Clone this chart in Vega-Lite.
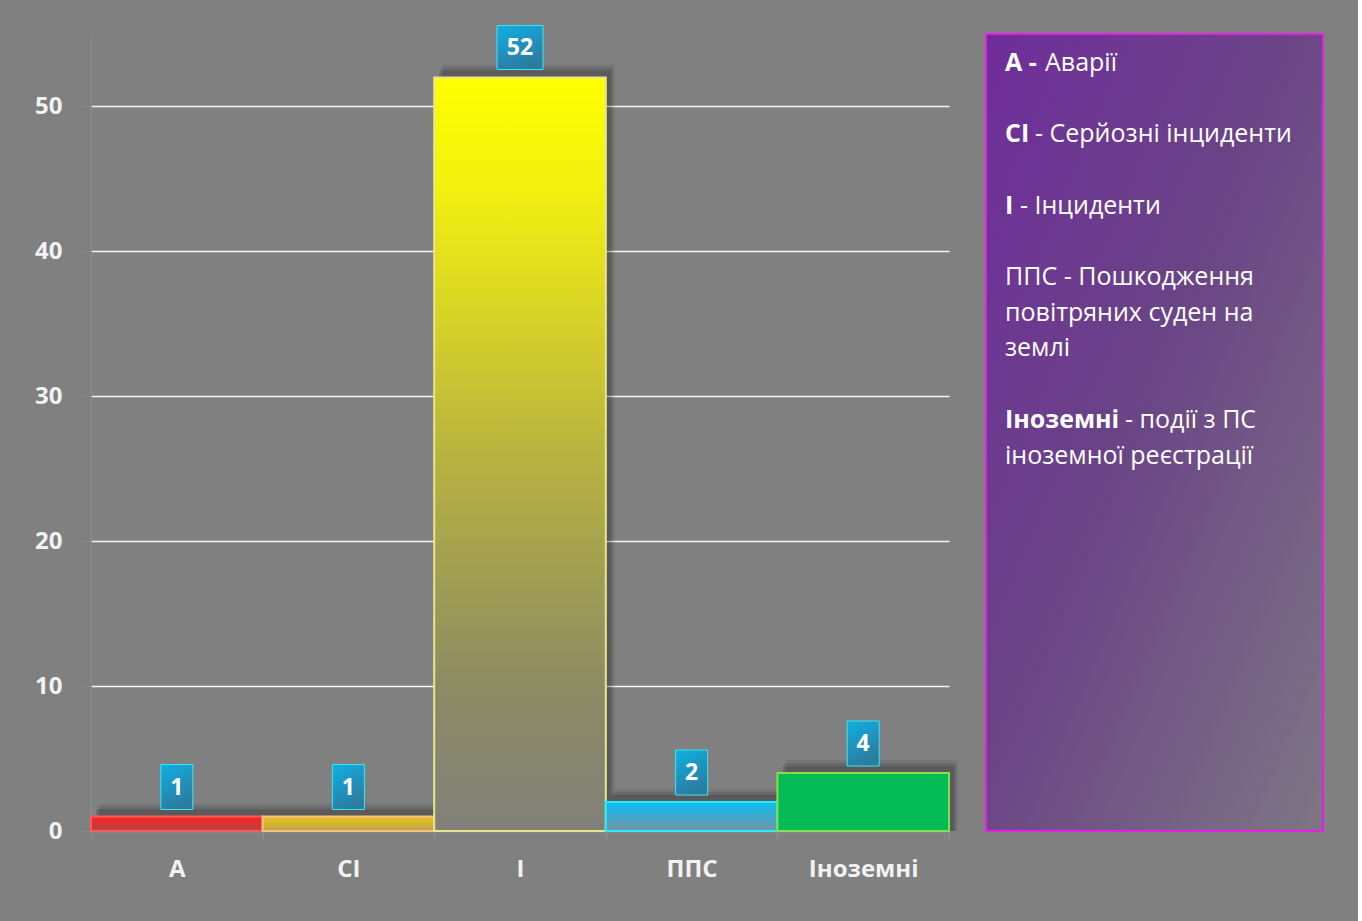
{
  "$schema": "https://vega.github.io/schema/vega-lite/v6.json",
  "background": "#808080",
  "padding": {"left": 34, "top": 24, "right": 34, "bottom": 40},
  "spacing": 27,
  "config": {
    "view": {"stroke": null},
    "font": "Open Sans",
    "axis": {"labelFont": "Open Sans"}
  },
  "hconcat": [
    {
      "width": 858,
      "height": 797,
      "data": {
        "values": [
          {"k": "А", "v": 1},
          {"k": "СІ", "v": 1},
          {"k": "І", "v": 52},
          {"k": "ППС", "v": 2},
          {"k": "Іноземні", "v": 4}
        ]
      },
      "encoding": {
        "x": {
          "field": "k",
          "type": "nominal",
          "sort": null,
          "scale": {"paddingInner": 0, "paddingOuter": 0},
          "axis": {
            "title": null,
            "labelAngle": 0,
            "labelFontSize": 24,
            "labelFontWeight": "bold",
            "labelColor": "#f2f2f2",
            "labelPadding": 18,
            "tickBand": "extent",
            "tickSize": 8,
            "tickColor": "#8e8e8e",
            "domainColor": "#8e8e8e",
            "domainWidth": 1.5
          }
        }
      },
      "layer": [
        {
          "mark": {"type": "bar", "xOffset": 9, "yOffset": -13, "fill": "#000000", "opacity": 0.08},
          "encoding": {
            "y": {
              "field": "v",
              "type": "quantitative",
              "scale": {"domain": [0, 55], "nice": false},
              "axis": {
                "title": null,
                "values": [0, 10, 20, 30, 40, 50],
                "labelFontSize": 24,
                "labelFontWeight": "bold",
                "labelColor": "#f2f2f2",
                "labelPadding": 20,
                "tickSize": 9,
                "tickColor": "#8e8e8e",
                "domainColor": "#8e8e8e",
                "grid": true,
                "gridColor": {"condition": {"test": "datum.value === 0", "value": "#8e8e8e"}, "value": "#f4f4f4"},
                "gridWidth": 1.3
              }
            },
            "y2": {"datum": 0}
          }
        },
        {
          "mark": {"type": "bar", "xOffset": 7, "yOffset": -10, "fill": "#000000", "opacity": 0.11},
          "encoding": {"y": {"field": "v", "type": "quantitative"}, "y2": {"datum": 0}}
        },
        {
          "mark": {"type": "bar", "xOffset": 5, "yOffset": -7, "fill": "#000000", "opacity": 0.14},
          "encoding": {"y": {"field": "v", "type": "quantitative"}, "y2": {"datum": 0}}
        },
        {
          "mark": {"type": "bar", "strokeWidth": 2},
          "encoding": {
            "y": {"field": "v", "type": "quantitative"},
            "y2": {"datum": 0},
            "fill": {
              "condition": [
                {"test": "datum.k === 'А'", "value": {"gradient": "linear", "x1": 0, "y1": 0, "x2": 0, "y2": 1, "stops": [{"offset": 0, "color": "#ff2020"}, {"offset": 1, "color": "#b04848"}]}},
                {"test": "datum.k === 'СІ'", "value": {"gradient": "linear", "x1": 0, "y1": 0, "x2": 0, "y2": 1, "stops": [{"offset": 0, "color": "#f2c21c"}, {"offset": 1, "color": "#b8a448"}]}},
                {"test": "datum.k === 'І'", "value": {"gradient": "linear", "x1": 0, "y1": 0, "x2": 0, "y2": 1, "stops": [{"offset": 0, "color": "#ffff00"}, {"offset": 0.15, "color": "#f2f010"}, {"offset": 0.5, "color": "#b8b340"}, {"offset": 0.8, "color": "#8e8c62"}, {"offset": 1, "color": "#80807a"}]}},
                {"test": "datum.k === 'ППС'", "value": {"gradient": "linear", "x1": 0, "y1": 0, "x2": 0, "y2": 1, "stops": [{"offset": 0, "color": "#04c0f4"}, {"offset": 1, "color": "#7892a4"}]}}
              ],
              "value": "#05bb55"
            },
            "stroke": {
              "condition": [
                {"test": "datum.k === 'А'", "value": "#ff5a5a"},
                {"test": "datum.k === 'СІ'", "value": "#f8c088"},
                {"test": "datum.k === 'І'", "value": "#e6e68a"},
                {"test": "datum.k === 'ППС'", "value": "#22eeff"}
              ],
              "value": "#86dc52"
            }
          }
        },
        {
          "transform": [{"filter": "datum.v < 10"}],
          "mark": {"type": "bar", "width": 32, "yOffset": -52, "y2Offset": -7, "stroke": "#3ae6f2", "strokeWidth": 1,
            "fill": {"gradient": "linear", "x1": 0, "y1": 0, "x2": 0.4, "y2": 1, "stops": [{"offset": 0, "color": "#0fb0e2"}, {"offset": 1, "color": "#2c7ca2"}]}},
          "encoding": {
            "y": {"field": "v", "type": "quantitative"},
            "y2": {"field": "v"}
          }
        },
        {
          "transform": [{"filter": "datum.v >= 10"}],
          "mark": {"type": "bar", "width": 46, "yOffset": -52, "y2Offset": -8, "stroke": "#3ae6f2", "strokeWidth": 1,
            "fill": {"gradient": "linear", "x1": 0, "y1": 0, "x2": 0.4, "y2": 1, "stops": [{"offset": 0, "color": "#0fb0e2"}, {"offset": 1, "color": "#2c7ca2"}]}},
          "encoding": {
            "y": {"field": "v", "type": "quantitative"},
            "y2": {"field": "v"}
          }
        },
        {
          "mark": {"type": "text", "yOffset": -29, "fontSize": 23, "fontWeight": "bold", "color": "#ffffff", "baseline": "middle", "align": "center"},
          "encoding": {
            "y": {"field": "v", "type": "quantitative"},
            "text": {"field": "v", "type": "quantitative"}
          }
        }
      ]
    },
    {
      "width": 337,
      "height": 797,
      "layer": [
        {
          "data": {"values": [{"box": "legend"}]},
          "mark": {
            "type": "rect",
            "stroke": "#e81ee8",
            "strokeWidth": 2,
            "fill": {"gradient": "linear", "x1": 0, "y1": 0, "x2": 1, "y2": 1, "stops": [{"offset": 0, "color": "#6f2d9c"}, {"offset": 0.45, "color": "#6a4486"}, {"offset": 1, "color": "#7e7684"}]}
          },
          "encoding": {
            "x": {"datum": 0, "type": "quantitative", "scale": {"domain": [0, 1]}, "axis": null},
            "x2": {"datum": 1},
            "y": {"datum": -0.81, "type": "quantitative", "scale": {"domain": [-0.81, 21.52], "reverse": true, "nice": false, "zero": false}, "axis": null},
            "y2": {"datum": 21.52}
          }
        },
        {
          "data": {
            "values": [
              {"line": 0, "key": "А -", "desc": "Аварії"},
              {"line": 2, "key": "СІ", "desc": "- Серйозні інциденти"},
              {"line": 4, "key": "І", "desc": "- Інциденти"},
              {"line": 6, "key": "", "desc": "ППС - Пошкодження"},
              {"line": 7, "key": "", "desc": "повітряних суден на"},
              {"line": 8, "key": "", "desc": "землі"},
              {"line": 10, "key": "Іноземні", "desc": "- події з ПС"},
              {"line": 11, "key": "", "desc": "іноземної реєстрації"}
            ]
          },
          "transform": [
            {"calculate": "(19 + (datum.key === 'А -' ? 40 : datum.key === 'СІ' ? 30 : datum.key === 'І' ? 15 : datum.key === 'Іноземні' ? 120 : 0)) / 337", "as": "descX"}
          ],
          "layer": [
            {
              "mark": {"type": "text", "align": "left", "baseline": "middle", "fontSize": 25, "fontWeight": "bold", "color": "#ffffff"},
              "encoding": {
                "x": {"datum": 0.0564, "type": "quantitative"},
                "y": {"field": "line", "type": "quantitative"},
                "text": {"field": "key"}
              }
            },
            {
              "mark": {"type": "text", "align": "left", "baseline": "middle", "fontSize": 25, "color": "#ffffff"},
              "encoding": {
                "x": {"field": "descX", "type": "quantitative"},
                "y": {"field": "line", "type": "quantitative"},
                "text": {"field": "desc"}
              }
            }
          ]
        }
      ]
    }
  ]
}
